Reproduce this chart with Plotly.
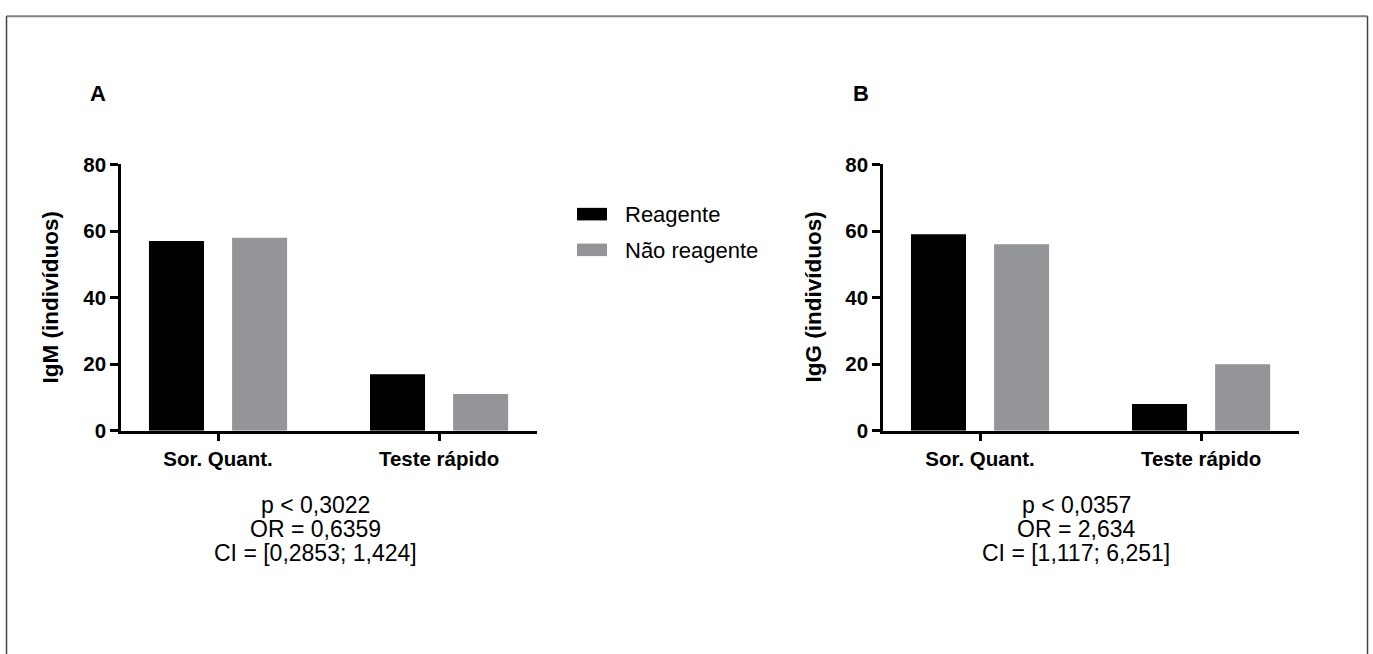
import plotly.graph_objects as go

W, H = 1373, 654

categories = ["Sor. Quant.", "Teste rápido"]
series_names = ["Reagente", "Não reagente"]
igm_reagente = [57, 17]
igm_nao_reagente = [58, 11]
igg_reagente = [59, 8]
igg_nao_reagente = [56, 20]
y_ticks = [0, 20, 40, 60, 80]
stats_a = ["p < 0,3022", "OR = 0,6359", "CI = [0,2853; 1,424]"]
stats_b = ["p < 0,0357", "OR = 2,634", "CI = [1,117; 6,251]"]
colors = ["#000000", "#939598"]

def px(x):
    return x / W

def py(y):
    return 1 - y / H

fig = go.Figure()

bar_w = 0.249
offsets = [-0.3125, 0.0635]

for ax, data in [("", [igm_reagente, igm_nao_reagente]), ("2", [igg_reagente, igg_nao_reagente])]:
    for i, (name, vals) in enumerate(zip(series_names, data)):
        fig.add_trace(go.Bar(
            x=categories, y=vals, name=name,
            marker=dict(color=colors[i], line=dict(width=0)),
            width=bar_w, offset=offsets[i],
            xaxis="x" + ax, yaxis="y" + ax, showlegend=False,
        ))

tick_font = dict(family="Arial", size=20.5, color="black", weight="bold")
xcommon = dict(
    type="category", range=[-0.439, 1.443], showline=True, linecolor="black",
    linewidth=2.5, ticks="outside", ticklen=8, tickwidth=2.5, tickcolor="black",
    showgrid=False, zeroline=False, tickfont=tick_font, fixedrange=True,
)
ycommon = dict(
    range=[0, 80], tickvals=y_ticks, showline=True, linecolor="black",
    linewidth=2.5, ticks="outside", ticklen=8, tickwidth=2.5, tickcolor="black",
    showgrid=False, zeroline=False, tickfont=tick_font, fixedrange=True,
)

ydom = [py(434), py(158)]
fig.update_layout(
    width=W, height=H,
    margin=dict(l=0, r=0, t=0, b=0),
    paper_bgcolor="white", plot_bgcolor="white",
    barmode="overlay",
    xaxis=dict(domain=[px(121), px(537)], anchor="y", **xcommon),
    yaxis=dict(domain=ydom, anchor="x", **ycommon),
    xaxis2=dict(domain=[px(883), px(1299)], anchor="y2", **xcommon),
    yaxis2=dict(domain=ydom, anchor="x2", **ycommon),
    showlegend=False,
)

annotations = []
for letter, x in [("A", 98), ("B", 861)]:
    annotations.append(dict(text=letter, x=px(x), y=py(84), xref="paper", yref="paper",
                            showarrow=False, xanchor="center", yanchor="middle",
                            font=dict(family="Arial", size=22, color="black", weight="bold")))
for title, x in [("IgM (indivíduos)", 51), ("IgG (indivíduos)", 814)]:
    annotations.append(dict(text=title, x=px(x), y=py(296), xref="paper", yref="paper",
                            showarrow=False, textangle=-90, xanchor="center", yanchor="middle",
                            font=dict(family="Arial", size=22.5, color="black", weight="bold")))
for lines, x in [(stats_a, 315), (stats_b, 1076)]:
    for k, line in enumerate(lines):
        annotations.append(dict(text=line, x=px(x), y=py(511 + 25 * k), xref="paper", yref="paper",
                                showarrow=False, xanchor="center", yanchor="middle",
                                font=dict(family="Arial", size=23, color="black")))
for k, name in enumerate(series_names):
    annotations.append(dict(text=name, x=px(623), y=py(210 + 37 * k), xref="paper", yref="paper",
                            showarrow=False, xanchor="left", yanchor="middle",
                            font=dict(family="Arial", size=22, color="black")))

shapes = []
for k, c in enumerate(colors):
    yc = 209.5 + 37 * k
    shapes.append(dict(type="rect", xref="paper", yref="paper",
                       x0=px(577), x1=px(607), y0=py(yc - 6.5), y1=py(yc + 6.5),
                       fillcolor=c, line=dict(width=0)))
# outer frame (top, left, right)
shapes.append(dict(type="line", xref="paper", yref="paper",
                   x0=px(6.5), x1=px(1367.5), y0=py(4.5), y1=py(4.5),
                   line=dict(color="#808080", width=2)))
for xf in [6.5, 1367.5]:
    shapes.append(dict(type="line", xref="paper", yref="paper",
                       x0=px(xf), x1=px(xf), y0=-0.05, y1=py(4.5),
                       line=dict(color="#444444", width=1.5)))

fig.update_layout(annotations=annotations, shapes=shapes)

fig.write_html(
    "out.html",
    config={"displayModeBar": False},
    post_script="document.body.style.margin='0';document.body.style.overflow='hidden';",
)
